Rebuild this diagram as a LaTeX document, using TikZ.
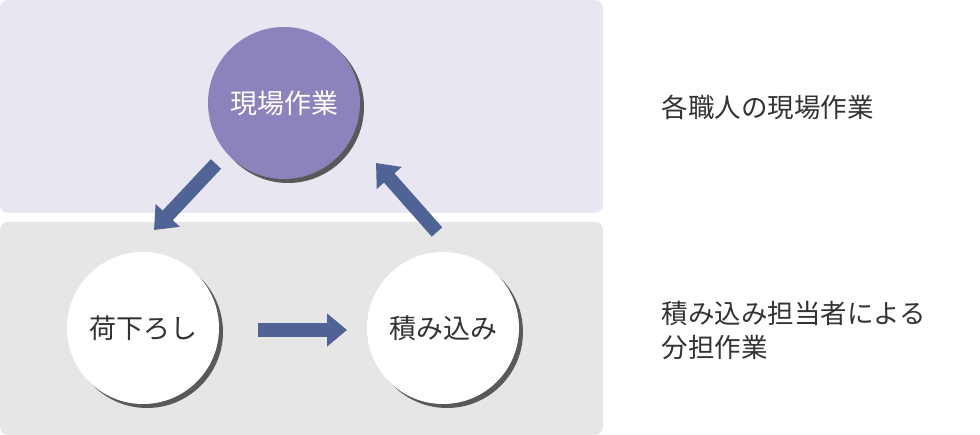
\documentclass[tikz,border=0pt]{standalone}
\usepackage{fontspec}
\setmainfont{Noto Sans CJK JP}
\usetikzlibrary{arrows.meta}
\definecolor{bandA}{HTML}{E8E6F1}
\definecolor{bandB}{HTML}{E6E6E6}
\definecolor{purp}{HTML}{8C82BC}
\definecolor{arr}{HTML}{4F6396}
\definecolor{txt}{HTML}{333333}
\begin{document}
\begin{tikzpicture}[x=1pt,y=-1pt,
  circ/.style={circle,minimum size=152pt,inner sep=0pt,font=\fontsize{27}{30}\selectfont},
  shad/.style={circle,minimum size=152pt,inner sep=0pt,fill=black!65},
  barrow/.style={arr,line width=14pt,-{Triangle[width=32pt,length=20pt]}},
  lbl/.style={anchor=west,text=txt,font=\fontsize{26.5}{34}\selectfont,align=left}]
\useasboundingbox (0,0) rectangle (980,435);
\fill[bandA,rounded corners=8pt] (0,0) rectangle (603,213);
\fill[bandB,rounded corners=8pt] (0,222) rectangle (603,435);
\node[shad] at (288,107) {};
\node[shad] at (147,332) {};
\node[shad] at (447,332) {};
\node[circ,fill=purp,text=white] (top) at (284,103) {現場作業};
\node[circ,fill=white,text=txt] (left) at (143,328) {荷下ろし};
\node[circ,fill=white,text=txt] (right) at (443,328) {積み込み};
\coordinate (a1) at (216,164); \coordinate (a2) at (154,230);
\coordinate (b1) at (437,232); \coordinate (b2) at (376,163);
\coordinate (c1) at (258,330); \coordinate (c2) at (347,330);
\draw[barrow] (a1) -- (a2);
\draw[barrow] (b1) -- (b2);
\draw[barrow] (c1) -- (c2);
\node[lbl] (t1) at (658,107) {各職人の現場作業};
\node[lbl] (t2) at (658,330) {積み込み担当者による\\分担作業};
\end{tikzpicture}
\end{document}
